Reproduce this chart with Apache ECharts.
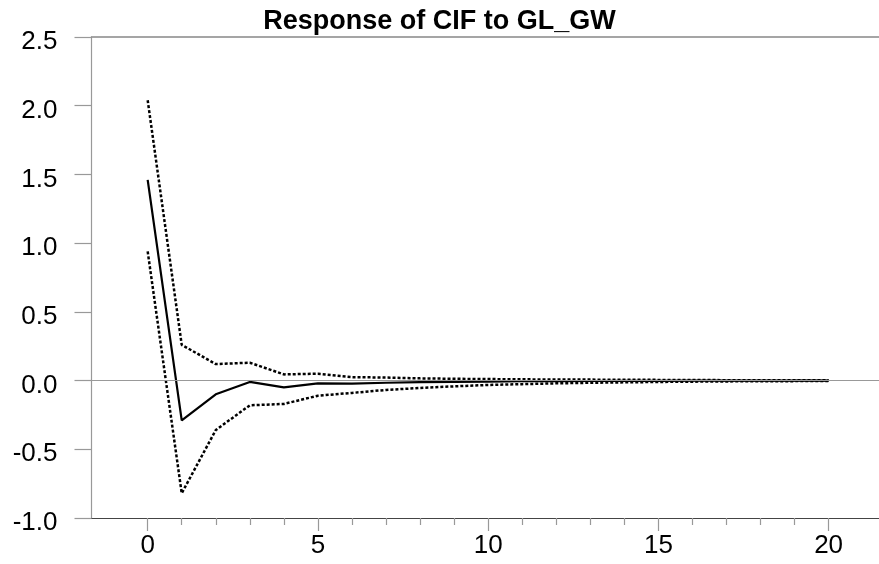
<!DOCTYPE html>
<html>
<head>
<meta charset="utf-8">
<script src="https://cdn.jsdelivr.net/npm/echarts@6/dist/echarts.min.js"></script>
<style>
html,body{margin:0;padding:0;background:#fff;}
#chart{width:879px;height:564px;}
</style>
</head>
<body>
<div id="chart"></div>
<script>
var titleText = 'Response of CIF to GL_GW';
var steps = [0,1,2,3,4,5,6,7,8,9,10,11,12,13,14,15,16,17,18,19,20];
var response = [1.46,-0.29,-0.10,-0.01,-0.05,-0.02,-0.022,-0.016,-0.012,-0.009,-0.007,-0.005,-0.004,-0.003,-0.002,-0.002,-0.001,-0.001,-0.001,0.000,0.000];
var upperBand = [2.04,0.26,0.12,0.13,0.045,0.05,0.025,0.022,0.016,0.013,0.011,0.009,0.008,0.007,0.006,0.005,0.004,0.003,0.003,0.002,0.002];
var lowerBand = [0.94,-0.82,-0.36,-0.18,-0.17,-0.11,-0.09,-0.068,-0.054,-0.042,-0.032,-0.026,-0.020,-0.016,-0.013,-0.010,-0.008,-0.006,-0.005,-0.004,-0.003];
var xMajorTicks = [0,5,10,15,20];
var xMinorTicks = [1,2,3,4,6,7,8,9,11,12,13,14,16,17,18,19];

function pairs(vals){ return steps.map(function(s,i){ return [s, vals[i]]; }); }

var XMIN = -1.65, XMAX = 21.48;
var font = 'Liberation Sans, Arial, sans-serif';

var chart = echarts.init(document.getElementById('chart'), null, {renderer:'canvas'});
chart.setOption({
  backgroundColor: '#ffffff',
  animation: false,
  title: {
    text: titleText, left: 'center', top: 3,
    textStyle: {fontFamily: font, fontWeight: 'bold', fontSize: 27, color: '#000'}
  },
  grid: {left: 91.5, right: 0, top: 37, bottom: 46, containLabel: false},
  xAxis: [{
    type: 'value', min: XMIN, max: XMAX, position: 'bottom',
    axisLine: {show: true, onZero: false, lineStyle: {color: '#444', width: 1.2}},
    axisTick: {show: true, customValues: xMajorTicks, length: 13, lineStyle: {color: '#999', width: 1.2}},
    axisLabel: {show: true, customValues: xMajorTicks, margin: 15, fontFamily: font, fontSize: 26, color: '#000'},
    splitLine: {show: false}
  },{
    type: 'value', min: XMIN, max: XMAX, position: 'bottom',
    axisLine: {show: false, onZero: false},
    axisTick: {show: true, customValues: xMinorTicks, length: 7, lineStyle: {color: '#999', width: 1.2}},
    axisLabel: {show: false},
    splitLine: {show: false}
  },{
    type: 'value', min: XMIN, max: XMAX, position: 'top',
    axisLine: {show: true, onZero: false, lineStyle: {color: '#888', width: 1.5}},
    axisTick: {show: false}, axisLabel: {show: false}, splitLine: {show: false}
  }],
  yAxis: {
    type: 'value', min: -1.0, max: 2.5, interval: 0.5,
    axisLine: {show: true, onZero: false, lineStyle: {color: '#999', width: 1.2}},
    axisTick: {show: true, length: 17, lineStyle: {color: '#999', width: 1.2}},
    axisLabel: {
      margin: 34, fontFamily: font, fontSize: 26, color: '#000',
      verticalAlign: 'top', lineHeight: 10,
      formatter: function(v){ return v.toFixed(1); }
    },
    splitLine: {show: false}
  },
  series: [{
    type: 'line', name: 'response', xAxisIndex: 0, data: pairs(response),
    symbol: 'none', lineStyle: {color: '#000', width: 2.2, type: 'solid'},
    markLine: {
      silent: true, symbol: 'none', label: {show: false},
      lineStyle: {color: '#999', width: 1.2, type: 'solid'},
      data: [{yAxis: 0}]
    },
    z: 3
  },{
    type: 'line', name: 'upper', xAxisIndex: 0, data: pairs(upperBand),
    symbol: 'none', lineStyle: {color: '#000', width: 2.5, type: [3,2]}, z: 3
  },{
    type: 'line', name: 'lower', xAxisIndex: 0, data: pairs(lowerBand),
    symbol: 'none', lineStyle: {color: '#000', width: 2.5, type: [3,2]}, z: 3
  }]
});
</script>
</body>
</html>
